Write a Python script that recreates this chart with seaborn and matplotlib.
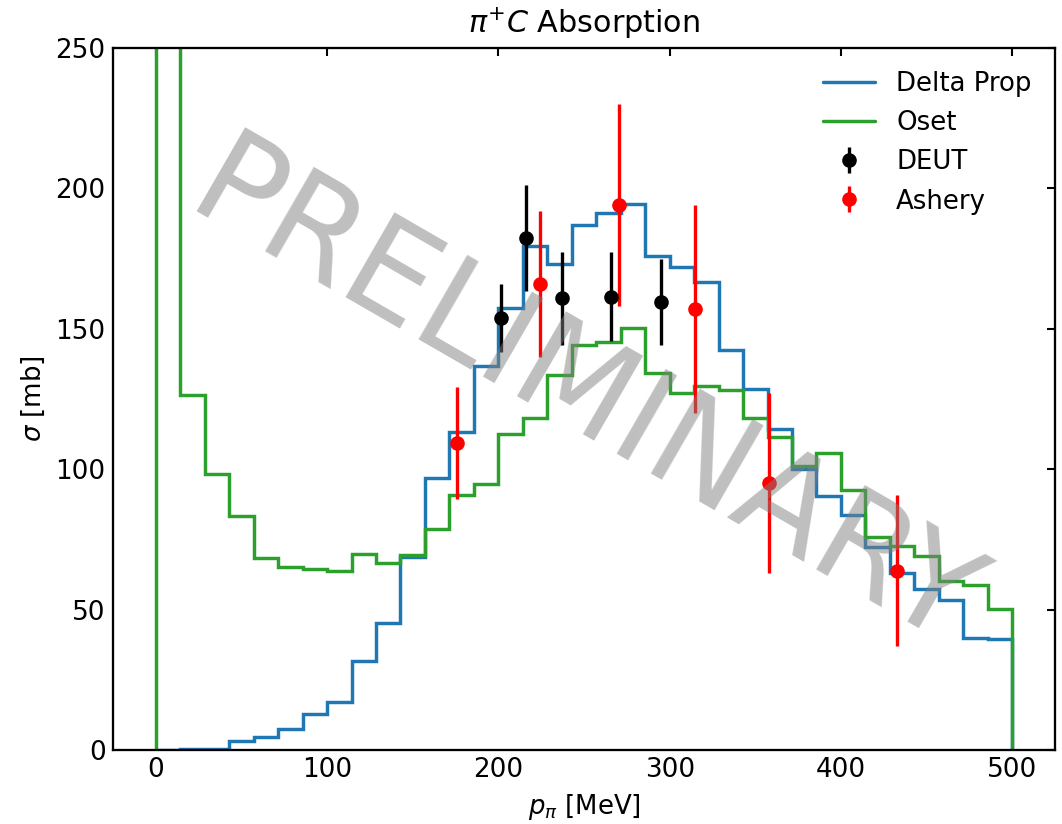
import numpy as np
import matplotlib
matplotlib.use("Agg")
import matplotlib.pyplot as plt
import seaborn as sns

# ---- data ----
p_min, p_max, n_bins = 0.0, 500.0, 35
delta_prop = [0.1, 0.4, 0.2, 3.3, 4.5, 7.4, 12.8, 17.1, 31.7, 45.1, 68.6, 96.7,
              113.4, 136.6, 157.3, 179.6, 172.9, 186.9, 191.2, 194.5, 175.9,
              172.0, 166.5, 142.6, 128.5, 114.3, 100.0, 90.6, 83.7, 72.4, 63.2,
              57.2, 53.4, 40.0, 39.7]
oset = [380.0, 126.5, 98.3, 83.4, 68.4, 65.1, 64.6, 63.9, 69.8, 66.7, 69.6, 78.6,
        90.8, 94.8, 112.5, 118.2, 133.5, 144.1, 145.3, 150.4, 134.1, 127.0,
        129.8, 128.3, 118.4, 111.4, 101.2, 105.9, 92.6, 75.8, 72.8, 69.2, 60.2,
        58.8, 50.1]
deut_p = [201.6, 216.2, 237.0, 265.5, 295.1]
deut_sigma = [153.8, 182.3, 160.9, 161.5, 159.5]
deut_err = [12.0, 19.0, 16.6, 15.7, 15.3]
ashery_p = [175.8, 224.3, 270.6, 314.9, 358.0, 432.7]
ashery_sigma = [109.3, 166.0, 194.2, 157.1, 95.0, 63.9]
ashery_err = [19.8, 25.9, 36.0, 37.0, 32.0, 27.0]

edges = np.linspace(p_min, p_max, n_bins + 1)

sns.set_theme(context="notebook", style="white")
plt.rcParams.update({
    "font.family": ["DejaVu Sans"],
    "text.color": "black", "axes.labelcolor": "black",
    "xtick.direction": "in", "ytick.direction": "in",
    "xtick.top": True, "ytick.right": True,
    "xtick.major.size": 3.7, "ytick.major.size": 3.7,
    "xtick.major.width": 1.0, "ytick.major.width": 1.0,
    "axes.linewidth": 1.1, "axes.edgecolor": "black",
    "xtick.color": "black", "ytick.color": "black",
    "xtick.labelsize": 12.6, "ytick.labelsize": 12.6,
    "axes.labelsize": 12.5, "axes.titlesize": 14.5,
    "legend.fontsize": 12.5,
    "mathtext.fontset": "dejavusans",
})

fig = plt.figure(figsize=(1062 / 150, 824 / 150), dpi=150)
ax = fig.add_axes([113 / 1062, 1 - 750 / 824, (1055 - 113) / 1062, (750 - 48) / 824])

ax.stairs(delta_prop, edges, color="#1f77b4", lw=1.65, label="Delta Prop", baseline=0)
ax.stairs(oset, edges, color="#2ca02c", lw=1.65, label="Oset", baseline=0)
ax.errorbar(deut_p, deut_sigma, yerr=deut_err, fmt="o", color="black",
            ms=6, elinewidth=1.6, label="DEUT")
ax.errorbar(ashery_p, ashery_sigma, yerr=ashery_err, fmt="o", color="red",
            ms=6, elinewidth=1.6, label="Ashery")

ax.set_xlim(p_min - 25, p_max + 25)
ax.set_ylim(0, 250)
ax.set_xticks([0, 100, 200, 300, 400, 500])
ax.set_yticks([0, 50, 100, 150, 200, 250])
ax.set_xlabel(r"$p_{\pi}$ [MeV]", labelpad=4)
ax.set_ylabel(r"$\sigma$ [mb]", labelpad=4)
ax.set_title(r"$\pi^{+}C$ Absorption", pad=7)

ax.legend(loc="upper right", frameon=False, handlelength=2.0,
          borderaxespad=0.5, labelspacing=0.5)

ax.text(0.5, 0.5, "PRELIMINARY", transform=ax.transAxes, ha="center",
        va="center", rotation=-30, fontsize=64, color="gray", alpha=0.5,
        zorder=10)

fig.savefig("out.png", dpi=150)
